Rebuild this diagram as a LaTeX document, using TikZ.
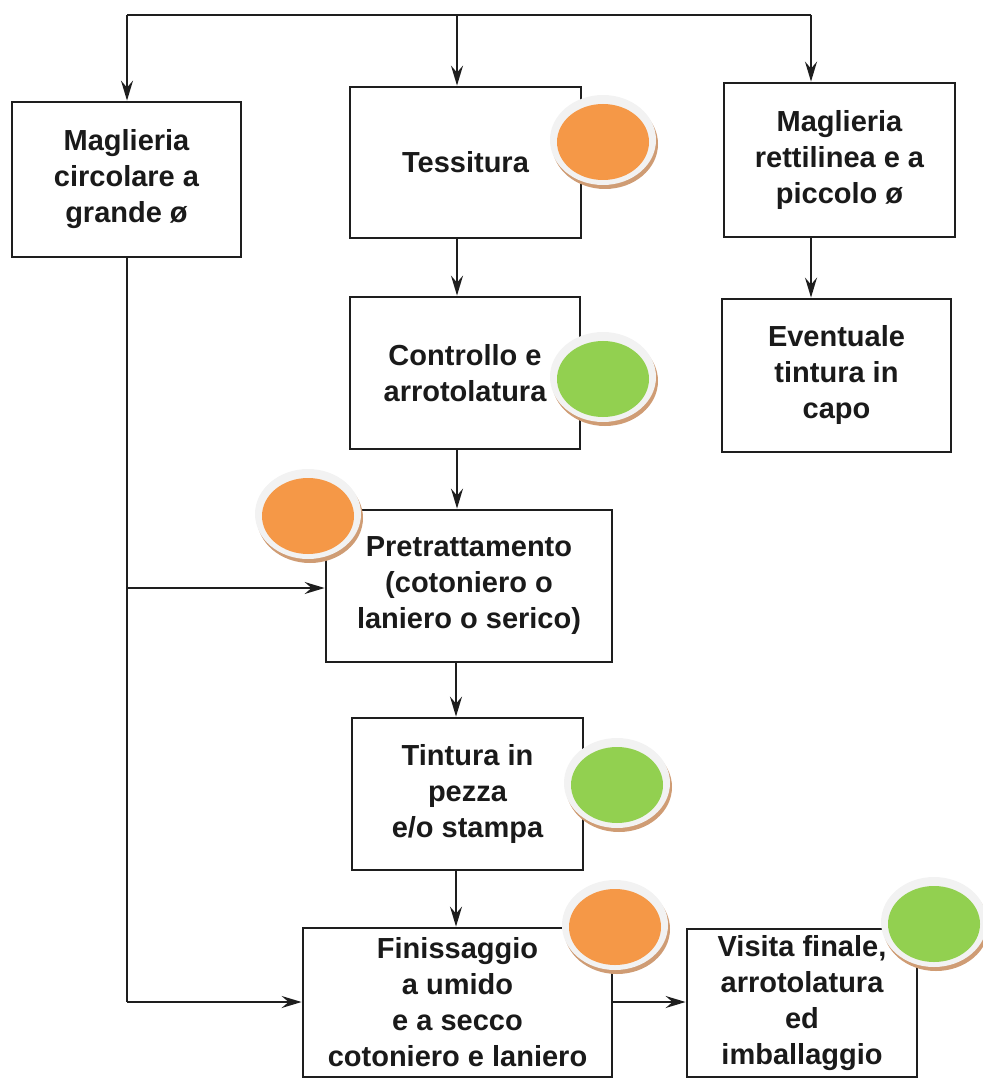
\documentclass[tikz,border=0pt]{standalone}
\usepackage{fontspec}
\setmainfont{Liberation Sans}
\usetikzlibrary{arrows.meta,calc}
\definecolor{linec}{HTML}{1E1E1E}
\definecolor{textc}{HTML}{1A1A1A}
\definecolor{dotorange}{HTML}{F59847}
\definecolor{dotgreen}{HTML}{92D050}
\definecolor{ringc}{HTML}{F2F2F2}
\definecolor{shadowc}{HTML}{CF9C74}
\tikzset{
  stepbox/.style 2 args={draw=linec, line width=1.4pt, fill=white,
    minimum width=#1, minimum height=#2, inner sep=0pt, align=center,
    text=textc, font=\fontsize{14.5pt}{18pt}\selectfont\bfseries},
  flow/.style={draw=linec, line width=1pt,
    -{Stealth[length=10pt,width=6pt,inset=3.5pt]}},
  wire/.style={draw=linec, line width=1pt},
}
% coloured status dot with light ring and soft drop shadow
\newcommand\statusdot[2]{%
  \fill[shadowc] ($(#1)+(2,4)$) ellipse [x radius=26.5pt, y radius=22.5pt];
  \fill[ringc] (#1) ellipse [x radius=26.5pt, y radius=22.5pt];
  \fill[#2] ($(#1)+(0,2)$) ellipse [x radius=23pt, y radius=19pt];
}
\begin{document}
\begin{tikzpicture}[x=0.5pt,y=-0.5pt]
\useasboundingbox (0,0) rectangle (982,1079);

% process boxes
\node[stepbox={114.5pt}{77.5pt}] (circ)   at (126.5,179.5) {Maglieria\\circolare a\\grande ø};
\node[stepbox={115.5pt}{75.5pt}] (tess)   at (465.5,162.5) {Tessitura};
\node[stepbox={115.5pt}{77pt}]   (rett)   at (839.5,160)   {Maglieria\\rettilinea e a\\piccolo ø};
\node[stepbox={114.5pt}{76.5pt}] (event)  at (836.5,375.5) {Eventuale\\tintura in\\capo};
\node[stepbox={115pt}{76pt}]     (contr)  at (465,373)     {Controllo e\\arrotolatura};
\node[stepbox={143pt}{76pt}]     (pretr)  at (469,586)     {Pretrattamento\\(cotoniero o\\laniero o serico)};
\node[stepbox={115.5pt}{76pt}]   (tint)   at (467.5,794)   {Tintura in\\pezza\\e/o stampa};
\node[stepbox={154.5pt}{74.5pt}] (finis)  at (457.5,1002.5){Finissaggio\\a umido\\e a secco\\cotoniero e laniero};
\node[stepbox={115pt}{74pt}]     (visita) at (802,1003)    {Visita finale,\\arrotolatura\\ed\\imballaggio};

% distribution line on top
\coordinate (tl) at (127,15);
\coordinate (tm) at (457,15);
\coordinate (tr) at (811,15);
\coordinate (cx) at (456,0);
\draw[wire] (tl) -- (tr);
\draw[flow] (tl) -- (tl |- circ.north);
\draw[flow] (tm) -- (tm |- tess.north);
\draw[flow] (tr) -- (tr |- rett.north);

% central chain
\draw[flow] (tm |- tess.south) -- (tm |- contr.north);
\draw[flow] (tm |- contr.south) -- (tm |- pretr.north);
\draw[flow] (cx |- pretr.south) -- (cx |- tint.north);
\draw[flow] (cx |- tint.south) -- (cx |- finis.north);
\draw[flow] (tr |- rett.south) -- (tr |- event.north);

% circular knitting bypass
\coordinate (cm) at (127,588);
\coordinate (cb) at (127,1002);
\draw[wire] (tl |- circ.south) -- (cb);
\draw[flow] (cm) -- (cm -| pretr.west);
\draw[flow] (cb) -- (cb -| finis.west);
\draw[flow] (finis.east |- cb) -- (visita.west |- cb);

% status dots
\statusdot{603,140}{dotorange}
\statusdot{603,377}{dotgreen}
\statusdot{308,514}{dotorange}
\statusdot{617,783}{dotgreen}
\statusdot{615,925}{dotorange}
\statusdot{934,922}{dotgreen}
\end{tikzpicture}
\end{document}
